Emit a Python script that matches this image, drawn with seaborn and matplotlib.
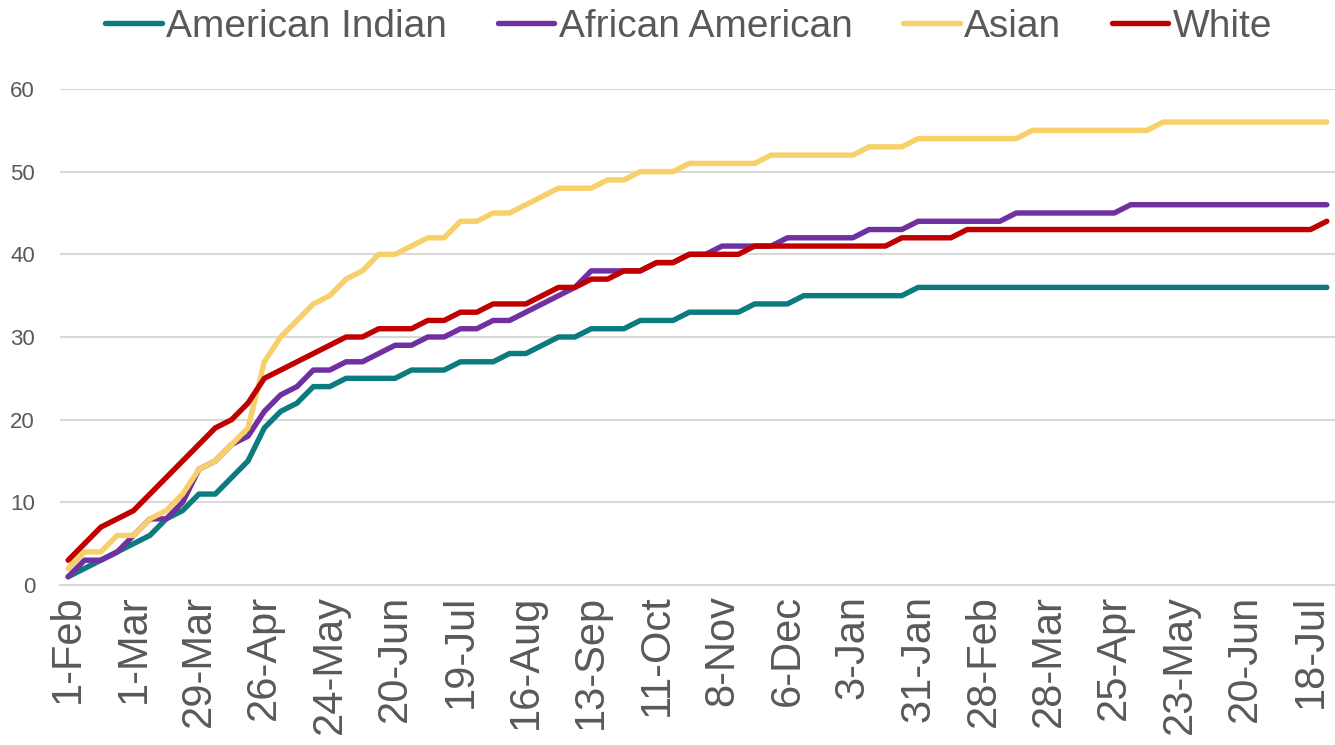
import numpy as np
import pandas as pd
import matplotlib.pyplot as plt
import seaborn as sns

# weekly cumulative counts, one value per week
american_indian = [1, 2, 3, 4, 5, 6, 8, 9, 11, 11, 13, 15, 19, 21, 22, 24, 24, 25, 25, 25,
                   25, 26, 26, 26, 27, 27, 27, 28, 28, 29, 30, 30, 31, 31, 31, 32, 32, 32, 33, 33,
                   33, 33, 34, 34, 34, 35, 35, 35, 35, 35, 35, 35, 36, 36, 36, 36, 36, 36, 36, 36,
                   36, 36, 36, 36, 36, 36, 36, 36, 36, 36, 36, 36, 36, 36, 36, 36, 36, 36]
african_american = [1, 3, 3, 4, 6, 8, 8, 10, 14, 15, 17, 18, 21, 23, 24, 26, 26, 27, 27, 28,
                    29, 29, 30, 30, 31, 31, 32, 32, 33, 34, 35, 36, 38, 38, 38, 38, 39, 39, 40, 40,
                    41, 41, 41, 41, 42, 42, 42, 42, 42, 43, 43, 43, 44, 44, 44, 44, 44, 44, 45, 45,
                    45, 45, 45, 45, 45, 46, 46, 46, 46, 46, 46, 46, 46, 46, 46, 46, 46, 46]
asian = [2, 4, 4, 6, 6, 8, 9, 11, 14, 15, 17, 19, 27, 30, 32, 34, 35, 37, 38, 40,
         40, 41, 42, 42, 44, 44, 45, 45, 46, 47, 48, 48, 48, 49, 49, 50, 50, 50, 51, 51,
         51, 51, 51, 52, 52, 52, 52, 52, 52, 53, 53, 53, 54, 54, 54, 54, 54, 54, 54, 55,
         55, 55, 55, 55, 55, 55, 55, 56, 56, 56, 56, 56, 56, 56, 56, 56, 56, 56]
white = [3, 5, 7, 8, 9, 11, 13, 15, 17, 19, 20, 22, 25, 26, 27, 28, 29, 30, 30, 31,
         31, 31, 32, 32, 33, 33, 34, 34, 34, 35, 36, 36, 37, 37, 38, 38, 39, 39, 40, 40,
         40, 40, 41, 41, 41, 41, 41, 41, 41, 41, 41, 42, 42, 42, 42, 43, 43, 43, 43, 43,
         43, 43, 43, 43, 43, 43, 43, 43, 43, 43, 43, 43, 43, 43, 43, 43, 43, 44]

# every 4th week is labelled
tick_labels = ["1-Feb", "1-Mar", "29-Mar", "26-Apr", "24-May", "20-Jun", "19-Jul", "16-Aug",
               "13-Sep", "11-Oct", "8-Nov", "6-Dec", "3-Jan", "31-Jan", "28-Feb", "28-Mar",
               "25-Apr", "23-May", "20-Jun", "18-Jul"]

groups = ["American Indian", "African American", "Asian", "White"]
colors = ["#0B7B7F", "#7030A0", "#F7D06A", "#C00000"]

df = pd.DataFrame({
    "week": np.arange(len(white)),
    "American Indian": american_indian,
    "African American": african_american,
    "Asian": asian,
    "White": white,
})
long = df.melt(id_vars="week", var_name="group", value_name="count")

sns.set_style("white")
plt.rcParams['font.family'] = ['Liberation Sans', 'DejaVu Sans']

fig = plt.figure(figsize=(13.35, 7.45), dpi=100)
ax = fig.add_axes([60 / 1335, 160 / 745, 1 - 60 / 1335, (585 - 89) / 745])

sns.lineplot(data=long, x="week", y="count", hue="group", hue_order=groups,
             palette=dict(zip(groups, colors)), linewidth=3.9, ax=ax)

ax.set_xlim(-0.5, 76.9)
ax.set_ylim(0, 60)
ax.set_yticks(range(0, 61, 10))
ax.yaxis.grid(True, color="#D9D9D9", linewidth=1.5)
ax.tick_params(axis="y", length=0, pad=18, labelsize=16, labelcolor="#595959")

ax.set_xticks(np.arange(0, len(white), 4))
ax.set_xticklabels(tick_labels, rotation=90)
ax.set_xticks(np.arange(-0.5, len(white), 1), minor=True)
ax.tick_params(axis="x", which="major", length=0, pad=7, labelsize=30, labelcolor="#595959")
ax.tick_params(axis="x", which="minor", length=8, width=1.2, color="#D9D9D9", direction="out")
ax.set_xlabel("")
ax.set_ylabel("")

for side in ["top", "right", "left"]:
    ax.spines[side].set_visible(False)
ax.spines["bottom"].set_color("#D9D9D9")
ax.spines["bottom"].set_linewidth(1.5)

handles, labels = ax.get_legend_handles_labels()
ax.get_legend().remove()
fig.legend(handles, labels, loc="upper center", bbox_to_anchor=(0.516, 1.035), ncol=4,
           frameon=False, fontsize=28, labelcolor="#595959", handlelength=1.45,
           handletextpad=0.12, columnspacing=1.3)

fig.savefig("out.png", dpi=100)
